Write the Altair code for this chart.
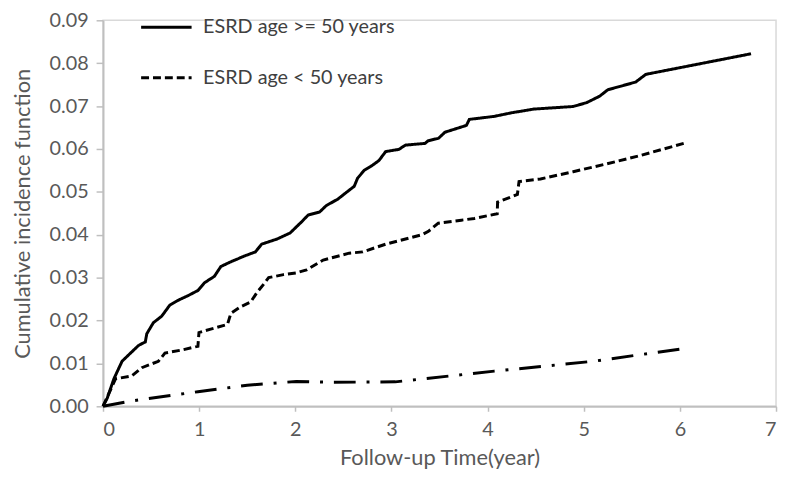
import altair as alt
import pandas as pd

# Series: ESRD age >= 50 years (solid)
t_old = [0.0, 0.044, 0.113, 0.198, 0.30, 0.37, 0.44, 0.455, 0.524, 0.61, 0.695, 0.78, 0.884, 0.987,
         1.055, 1.158, 1.226, 1.33, 1.466, 1.585, 1.65, 1.81, 1.945, 2.065, 2.134, 2.253, 2.322,
         2.442, 2.527, 2.613, 2.648, 2.716, 2.802, 2.87, 2.94, 3.077, 3.146, 3.35, 3.38, 3.49,
         3.556, 3.78, 3.81, 4.07, 4.24, 4.48, 4.89, 5.03, 5.165, 5.25, 5.54, 5.646, 6.74]
v_old = [0.0, 0.0019, 0.0064, 0.0105, 0.0127, 0.0142, 0.015, 0.0169, 0.0195, 0.021, 0.0236, 0.0247,
         0.0258, 0.027, 0.0288, 0.0303, 0.0326, 0.0337, 0.035, 0.036, 0.0378, 0.039, 0.0404, 0.043,
         0.0446, 0.0453, 0.0468, 0.0483, 0.0498, 0.0513, 0.0532, 0.055, 0.0562, 0.0573, 0.0594,
         0.0599, 0.0609, 0.0613, 0.0619, 0.0625, 0.0639, 0.0655, 0.0669, 0.0676, 0.0684, 0.0693,
         0.0699, 0.0708, 0.0723, 0.0738, 0.0756, 0.0774, 0.0822]

# Series: ESRD age < 50 years (dashed)
t_young = [0.0, 0.13, 0.30, 0.404, 0.576, 0.644, 0.815, 0.987, 0.998, 1.12, 1.295, 1.33, 1.43,
           1.535, 1.603, 1.672, 1.723, 1.877, 2.01, 2.117, 2.29, 2.56, 2.70, 2.94, 3.316, 3.385,
           3.487, 3.727, 3.864, 4.10, 4.104, 4.31, 4.327, 4.55, 4.89, 5.234, 5.577, 6.04]
v_young = [0.0, 0.0064, 0.0071, 0.009, 0.0105, 0.0124, 0.0131, 0.014, 0.0172, 0.018, 0.0191,
           0.0217, 0.0232, 0.0243, 0.0266, 0.0285, 0.030, 0.0307, 0.0311, 0.0318, 0.0341, 0.0357,
           0.036, 0.0378, 0.040, 0.0408, 0.0427, 0.0434, 0.0438, 0.0449, 0.0476, 0.0494, 0.0524,
           0.053, 0.0547, 0.0565, 0.0584, 0.0613]

# Series: comparison group (dash-dot, not in legend)
t_ctrl = [0.0, 0.30, 0.987, 1.5, 2.01, 2.36, 3.04, 4.07, 5.1, 6.02]
v_ctrl = [0.0, 0.00126, 0.0034, 0.0049, 0.0058, 0.0056, 0.0057, 0.0082, 0.0105, 0.0134]

names = ["ESRD age >= 50 years", "ESRD age < 50 years", "Non-ESRD"]

rows = []
for name, ts, vs in zip(names, [t_old, t_young, t_ctrl], [v_old, v_young, v_ctrl]):
    for i, (t, v) in enumerate(zip(ts, vs)):
        rows.append({"series": name, "t": t, "v": v, "order": i})
df = pd.DataFrame(rows)

FONT = "Lato"
GREY = "#595959"

chart = alt.Chart(df).mark_line(color="black", strokeWidth=3, strokeCap="butt").encode(
    x=alt.X("t:Q", scale=alt.Scale(domain=[0, 7], nice=False),
            axis=alt.Axis(title="Follow-up Time(year)", values=list(range(8)), format="d",
                          grid=False, tickSize=5, labelPadding=9, titlePadding=8)),
    y=alt.Y("v:Q", scale=alt.Scale(domain=[0, 0.09], nice=False),
            axis=alt.Axis(title="Cumulative  incidence function",
                          values=[i / 100 for i in range(10)], format=".2f",
                          grid=False, tickSize=7, labelPadding=8, titlePadding=15)),
    strokeDash=alt.StrokeDash("series:N",
        scale=alt.Scale(domain=names, range=[[1, 0], [8, 4], [22, 11, 3, 11]]),
        legend=alt.Legend(title=None, values=names[:2], orient="none", legendX=37, legendY=-20,
                          symbolType="stroke", symbolSize=2600, symbolStrokeWidth=3,
                          symbolStrokeColor="black", labelFont=FONT, labelFontSize=20,
                          labelColor="#404040", labelOffset=10, labelLimit=0,
                          rowPadding=14, padding=0)),
    detail="series:N",
    order="order:Q",
).properties(
    width=680, height=390,
    autosize=alt.AutoSizeParams(type="none"),
    padding={"left": 96, "top": 10, "right": 3, "bottom": 69},
).configure_view(
    stroke="#d9d9d9", strokeWidth=1.5
).configure_axis(
    domainColor="#bfbfbf", domainWidth=2, tickColor="#bfbfbf", tickWidth=1.5,
    labelFont=FONT, labelFontSize=20, labelColor=GREY,
    titleFont=FONT, titleFontSize=22, titleColor=GREY, titleFontWeight="normal",
)

chart.save("out.html", embed_options={"renderer": "svg", "actions": False})
